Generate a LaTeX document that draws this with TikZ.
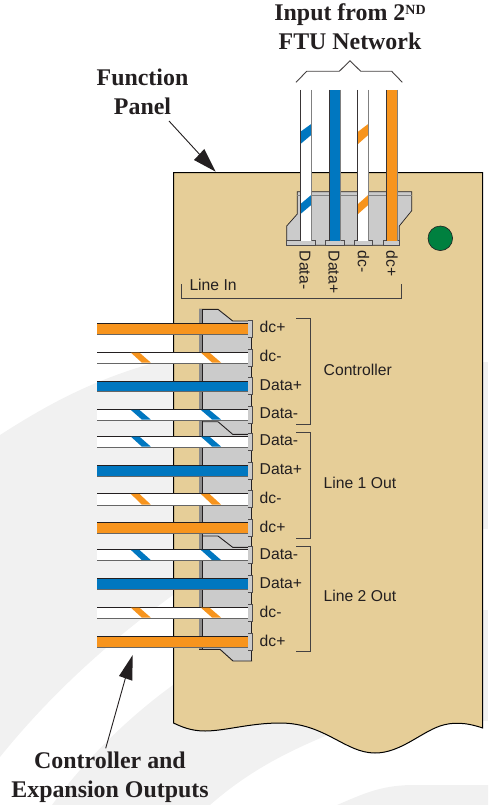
\documentclass[tikz,border=0pt]{standalone}
\usepackage{fontspec}
\setmainfont{Liberation Serif}
\setsansfont{Liberation Sans}
\definecolor{panelbrown}{HTML}{E6CE98}
\definecolor{shadegrey}{HTML}{F1F1F1}
\definecolor{blockgrey}{HTML}{CBCBCB}
\definecolor{wireblue}{HTML}{0077C0}
\definecolor{wireorange}{HTML}{F7941D}
\definecolor{ledgreen}{HTML}{00803F}
\definecolor{inkblack}{HTML}{231F20}
\tikzset{
  pinlabel/.style={font=\sffamily\fontsize{15.7}{18}\selectfont, text=inkblack, inner sep=0pt},
  title/.style={font=\bfseries\fontsize{23.9}{29}\selectfont, text=inkblack, align=center, inner sep=0pt},
  bracket/.style={draw=inkblack!85, line width=0.9pt},
  thinline/.style={draw=inkblack, line width=0.9pt},
  pointer/.style={draw=inkblack, line width=0.9pt},
  pointerhead/.style={fill=inkblack, draw=none}
}
% horizontal wire: y top, y bottom
\newcommand{\hwire}[3]{%
  \fill[#3] (97,#1) rectangle (248,#2);
  \draw[inkblack, line width=1pt] (97,#1) -- (248,#1);
  \draw[black!60, line width=1pt] (97,#2) -- (248,#2);}
\newcommand{\hstripe}[3]{%
  \fill[#3] (130.7,#1) -- (139.3,#1) -- (150.7,#2) -- (141.7,#2) -- cycle;
  \fill[#3] (200.7,#1) -- (209.3,#1) -- (221,#2) -- (212,#2) -- cycle;}
% output pin at the end of a horizontal wire
\newcommand{\hpin}[1]{%
  \filldraw[fill=blockgrey, draw=inkblack!80, line width=0.8pt] (248,#1-8.5) -- (252,#1-8.5) -- (252,#1+8.5) -- (248,#1+8.5);}

\begin{document}
\begin{tikzpicture}[x=1pt,y=-1pt]
\useasboundingbox (0,0) rectangle (488,805);

%% background swooshes
\fill[shadegrey] (0,435) .. controls (50,403) and (100,375) .. (180,356) -- (180,590)
  .. controls (110,640) and (50,695) .. (0,757) -- cycle;
\fill[shadegrey] (52,805) .. controls (87,757) and (133,713) .. (180,680) -- (340,730)
  .. controls (290,750) and (250,770) .. (210,805) -- cycle;
\fill[shadegrey] (337,805) .. controls (365,793) and (380,786) .. (410,785) -- (488,785) -- (488,805) -- cycle;
\fill[shadegrey] (480,362) rectangle (488,529);
\fill[shadegrey] (480,610) rectangle (488,721);

%% panel
\filldraw[fill=panelbrown, draw=black, line width=1pt] (173.5,723) -- (173.5,172.7) -- (482.7,172.7) -- (482.7,728)
  .. controls (465,722) and (452,722) .. (440,726)
  .. controls (420,733) and (400,753) .. (375,753)
  .. controls (345,753) and (325,723) .. (280,723)
  .. controls (250,723) and (225,731) .. (205,731)
  .. controls (190,731) and (180,726) .. (173.5,723) -- cycle;

%% input block
\filldraw[fill=blockgrey, draw=inkblack, line width=0.7pt] (297.3,191.7) -- (297.3,214) -- (286.7,226) -- (286.7,245.3)
  -- (399.3,245.3) -- (399.3,226) -- (411.7,210.7) -- (411.7,191.7) -- cycle;
\draw[black!50, line width=1pt] (297.3,195.7) -- (411.7,195.7);
\foreach \xa/\xb in {286.7/315,325.7/344,354.3/372.7,383.3/399.3} {
  \filldraw[fill=blockgrey, draw=inkblack!80, line width=0.6pt] (\xa,245.3) rectangle (\xb,240.7);
}

%% input wires
\fill[white] (300,90) rectangle (311.7,240.7);
\fill[wireblue] (329,90) rectangle (340,240.7);
\fill[white] (357.3,90) rectangle (368.7,240.7);
\fill[wireorange] (386,90) rectangle (397.7,240.7);
\fill[wireblue] (300.5,131.7) -- (311.2,124) -- (311.2,135) -- (300.5,144) -- cycle;
\fill[wireblue] (300.5,204) -- (311.2,195) -- (311.2,205) -- (300.5,214) -- cycle;
\fill[wireorange] (358,131.7) -- (368.2,124) -- (368.2,135) -- (358,144) -- cycle;
\fill[wireorange] (358,204) -- (368.2,195) -- (368.2,205) -- (358,214) -- cycle;
\foreach \xa/\xb in {300/311.7,329/340,357.3/368.7,386/397.7} {
  \draw[inkblack!90, line width=0.8pt] (\xa,90) -- (\xa,240.7);
  \draw[black!50, line width=0.9pt] (\xb,90) -- (\xb,240.7);
}

%% output block
\fill[blockgrey] (199,309.3) -- (218,309.3) -- (232.7,321) -- (252,321) -- (252,661) -- (233,661) -- (220,649.3) -- (199,649.3) -- cycle;
\draw[thinline] (199,309.3) -- (218,309.3) -- (232.7,321) -- (252,321);
\draw[thinline] (199,421.7) -- (218,421.7) -- (232.7,434.3) -- (250,434.3);
\draw[thinline] (199,536) -- (218,536) -- (232.7,547.3) -- (250,547.3);
\draw[thinline] (199,649.3) -- (220,649.3) -- (233,661) -- (252,661);
\fill[black!45] (199,309.3) rectangle (202,649.3);
\draw[inkblack, line width=0.7pt] (202.7,309.3) -- (202.7,649.3);
\draw[inkblack, line width=0.7pt] (251.8,321) -- (251.8,661);

%% output wires
\hwire{323.3}{334}{wireorange}
\hwire{352}{363}{white}
\hwire{381}{391.5}{wireblue}
\hwire{409.3}{420}{white}
\hwire{436}{447}{white}
\hwire{465}{476}{wireblue}
\hwire{493.3}{505}{white}
\hwire{522.3}{533}{wireorange}
\hwire{549.3}{560.5}{white}
\hwire{578.3}{589}{wireblue}
\hwire{607}{618}{white}
\hwire{636}{647}{wireorange}

\hstripe{352.5}{362.5}{wireorange}
\hstripe{409.8}{419.5}{wireblue}
\hstripe{436.5}{446.5}{wireblue}
\hstripe{493.8}{504.5}{wireorange}
\hstripe{549.8}{560}{wireblue}
\hstripe{607.5}{617.5}{wireorange}

\foreach \ypin in {329,357.5,386,414.5,441.5,470.5,499,527.5,555,584,612.5,641.5} {
  \hpin{\ypin}
}

%% led
\filldraw[fill=ledgreen, draw=inkblack, line width=0.6pt] (440.3,238.3) circle (12.3);

%% pin labels
\node[pinlabel, rotate=-90, anchor=west] (inA) at (305,250.7) {Data-};
\node[pinlabel, rotate=-90, anchor=west] (inB) at (334,250.7) {Data+};
\node[pinlabel, rotate=-90, anchor=west] (inC) at (363.5,250.7) {dc-};
\node[pinlabel, rotate=-90, anchor=west] (inD) at (392,250.7) {dc+};
\foreach \ypin/\pinname in {327/dc+,356/dc-,385/Data+,413.5/Data-,440.5/Data-,469.5/Data+,498/dc-,527/dc+,554.5/Data-,583.5/Data+,612/dc-,641/dc+} {
  \node[pinlabel, anchor=west] at (259.5,\ypin) {\pinname};
}
\node[pinlabel, anchor=west] (linein) at (189.3,285) {Line In};
\node[pinlabel, anchor=west] (ctrl) at (323.5,370) {Controller};
\node[pinlabel, anchor=west] (lineone) at (323.5,483) {Line 1 Out};
\node[pinlabel, anchor=west] (linetwo) at (323.5,596) {Line 2 Out};

%% brackets
\draw[bracket] (181,284.3) -- (181,298.3) -- (401,298.3) -- (401,284.3);
\draw[bracket] (296,318.3) -- (310.3,318.3) -- (310.3,424.3) -- (296,424.3);
\draw[bracket] (296,432.3) -- (310.3,432.3) -- (310.3,538.3) -- (296,538.3);
\draw[bracket] (296,546) -- (310.3,546) -- (310.3,651.7) -- (296,651.7);
\draw[bracket] (296,82.3) -- (306.7,71.3) -- (339.3,71.3) -- (350,60.7) -- (360.7,71.3) -- (391.7,71.3) -- (402.3,82.3);

%% titles
\node[title] (input) at (350,27) {Input from 2\raisebox{0.28em}{\fontsize{14}{14}\selectfont ND}\\FTU Network};
\node[title] (panel) at (142.5,92) {Function\\Panel};
\node[title] (outputs) at (110,777) {Controller and\\Expansion Outputs};

%% pointers
\coordinate (panelTail) at (169,121);
\coordinate (panelTip) at (215.7,171.7);
\coordinate (outTail) at (105.7,748.3);
\coordinate (outTip) at (132.7,655);
\draw[pointer] (panelTail) -- (202,157);
\fill[pointerhead] (panelTip) -- (194,160) -- (204.3,149) -- cycle;
\draw[pointer] (outTail) -- (126,676);
\fill[pointerhead] (outTip) -- (119,676) -- (132.3,680.7) -- cycle;
\end{tikzpicture}
\end{document}
